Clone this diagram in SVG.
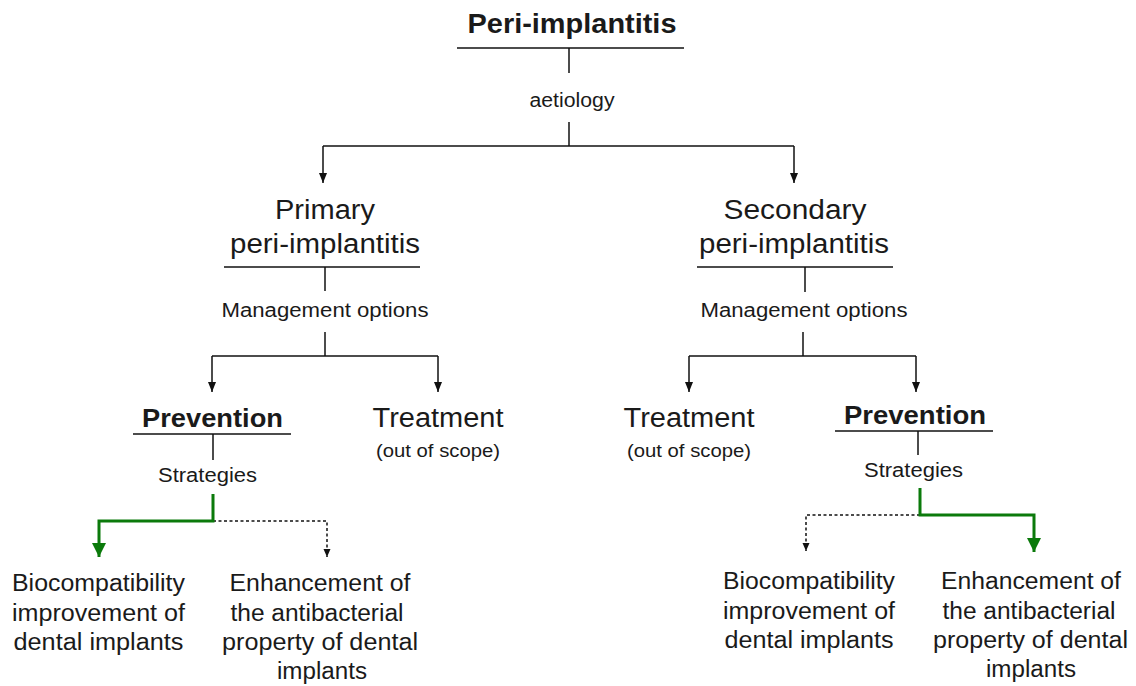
<svg xmlns="http://www.w3.org/2000/svg" width="1136" height="686" viewBox="0 0 1136 686">
<defs>
<style>
text{font-family:"Liberation Sans",Arial,Helvetica,sans-serif;fill:#1a1a1a;text-anchor:middle}
.title{font-size:28px;font-weight:bold}
.h2{font-size:27px}
.lbl{font-size:20px}
.bold{font-size:26px;font-weight:bold}
.small{font-size:18px}
.leaf{font-size:23px}
.ln{stroke:#111;stroke-width:1.5;fill:none}
.arr{stroke:#111;stroke-width:1.5;fill:none;marker-end:url(#ah)}
.dot{stroke:#111;stroke-width:1.5;fill:none;stroke-dasharray:3 2.5;marker-end:url(#ahs)}
.grn{stroke:#0b7a0b;stroke-width:3;fill:none;marker-end:url(#ahg)}
</style>
<marker id="ah" markerUnits="userSpaceOnUse" markerWidth="12" markerHeight="10" refX="10" refY="4" orient="auto"><path d="M0,0 L10,4 L0,8 z" fill="#111"/></marker>
<marker id="ahs" markerUnits="userSpaceOnUse" markerWidth="10" markerHeight="8" refX="8" refY="3.5" orient="auto"><path d="M0,0 L8,3.5 L0,7 z" fill="#111"/></marker>
<marker id="ahg" markerUnits="userSpaceOnUse" markerWidth="16" markerHeight="16" refX="14" refY="7" orient="auto"><path d="M0,0 L14,7 L0,14 z" fill="#0b7a0b"/></marker>
</defs>
<rect width="1136" height="686" fill="#fff"/>

<g id="connectors">
<line class="ln" x1="457" y1="48" x2="684" y2="48"/>
<line class="ln" x1="569" y1="48" x2="569" y2="73"/>
<line class="ln" x1="569" y1="122" x2="569" y2="146"/>
<path class="ln" d="M323,146 H794"/>
<path class="arr" d="M323,146 V183"/>
<path class="arr" d="M794,146 V183"/>

<line class="ln" x1="224" y1="267" x2="420" y2="267"/>
<line class="ln" x1="325" y1="267" x2="325" y2="291"/>
<line class="ln" x1="325" y1="332" x2="325" y2="356"/>
<path class="ln" d="M212,356 H438"/>
<path class="arr" d="M212,356 V392"/>
<path class="arr" d="M438,356 V392"/>

<line class="ln" x1="697" y1="267" x2="893" y2="267"/>
<line class="ln" x1="805" y1="267" x2="805" y2="292"/>
<line class="ln" x1="803" y1="332" x2="803" y2="356"/>
<path class="ln" d="M689,356 H916"/>
<path class="arr" d="M689,356 V392"/>
<path class="arr" d="M916,356 V392"/>

<line class="ln" x1="133" y1="434" x2="291" y2="434"/>
<line class="ln" x1="213" y1="434" x2="213" y2="460"/>
<path class="dot" d="M213,521 H327 V557"/>
<path class="grn" d="M213,494 V521 H99 V557"/>

<line class="ln" x1="835" y1="431" x2="993" y2="431"/>
<line class="ln" x1="918" y1="431" x2="918" y2="455"/>
<path class="dot" d="M920,515 H806 V551"/>
<path class="grn" d="M920,488 V515 H1034 V552"/>
</g>

<g id="n-root"><text class="title" x="572" y="33" textLength="209" lengthAdjust="spacingAndGlyphs">Peri-implantitis</text></g>
<g id="l-aetiology"><text class="lbl" x="572" y="107" textLength="85" lengthAdjust="spacingAndGlyphs">aetiology</text></g>

<g id="n-primary">
<text class="h2" x="325" y="219" textLength="100" lengthAdjust="spacingAndGlyphs">Primary</text>
<text class="h2" x="325" y="253" textLength="190" lengthAdjust="spacingAndGlyphs">peri-implantitis</text>
</g>
<g id="l-mo1"><text class="lbl" x="325" y="317" textLength="207" lengthAdjust="spacingAndGlyphs">Management options</text></g>

<g id="n-secondary">
<text class="h2" x="795" y="219" textLength="143" lengthAdjust="spacingAndGlyphs">Secondary</text>
<text class="h2" x="794" y="253" textLength="190" lengthAdjust="spacingAndGlyphs">peri-implantitis</text>
</g>
<g id="l-mo2"><text class="lbl" x="804" y="317" textLength="207" lengthAdjust="spacingAndGlyphs">Management options</text></g>

<g id="n-prev1"><text class="bold" x="212.5" y="427" textLength="141" lengthAdjust="spacingAndGlyphs">Prevention</text></g>
<g id="l-str1"><text class="lbl" x="207.5" y="482" textLength="99" lengthAdjust="spacingAndGlyphs">Strategies</text></g>

<g id="n-treat1">
<text class="h2" x="438" y="427" textLength="131" lengthAdjust="spacingAndGlyphs">Treatment</text>
<text class="small" x="438" y="457" textLength="124" lengthAdjust="spacingAndGlyphs">(out of scope)</text>
</g>

<g id="n-treat2">
<text class="h2" x="689" y="427" textLength="131" lengthAdjust="spacingAndGlyphs">Treatment</text>
<text class="small" x="689" y="457" textLength="124" lengthAdjust="spacingAndGlyphs">(out of scope)</text>
</g>

<g id="n-prev2"><text class="bold" x="915" y="424" textLength="142" lengthAdjust="spacingAndGlyphs">Prevention</text></g>
<g id="l-str2"><text class="lbl" x="913.5" y="477" textLength="99" lengthAdjust="spacingAndGlyphs">Strategies</text></g>

<g id="n-bio1">
<text class="leaf" x="98.5" y="591" textLength="173" lengthAdjust="spacingAndGlyphs">Biocompatibility</text>
<text class="leaf" x="98.5" y="621" textLength="173" lengthAdjust="spacingAndGlyphs">improvement of</text>
<text class="leaf" x="98.5" y="650" textLength="170" lengthAdjust="spacingAndGlyphs">dental implants</text>
</g>
<g id="n-anti1">
<text class="leaf" x="320" y="591" textLength="181" lengthAdjust="spacingAndGlyphs">Enhancement of</text>
<text class="leaf" x="317" y="621" textLength="173" lengthAdjust="spacingAndGlyphs">the antibacterial</text>
<text class="leaf" x="320" y="650" textLength="196" lengthAdjust="spacingAndGlyphs">property of dental</text>
<text class="leaf" x="322" y="679" textLength="90" lengthAdjust="spacingAndGlyphs">implants</text>
</g>

<g id="n-bio2">
<text class="leaf" x="809" y="589" textLength="172" lengthAdjust="spacingAndGlyphs">Biocompatibility</text>
<text class="leaf" x="809" y="619" textLength="172" lengthAdjust="spacingAndGlyphs">improvement of</text>
<text class="leaf" x="809" y="648" textLength="169" lengthAdjust="spacingAndGlyphs">dental implants</text>
</g>
<g id="n-anti2">
<text class="leaf" x="1031" y="589" textLength="180" lengthAdjust="spacingAndGlyphs">Enhancement of</text>
<text class="leaf" x="1029" y="619" textLength="173" lengthAdjust="spacingAndGlyphs">the antibacterial</text>
<text class="leaf" x="1030.5" y="648" textLength="195" lengthAdjust="spacingAndGlyphs">property of dental</text>
<text class="leaf" x="1031" y="677" textLength="90" lengthAdjust="spacingAndGlyphs">implants</text>
</g>
</svg>
